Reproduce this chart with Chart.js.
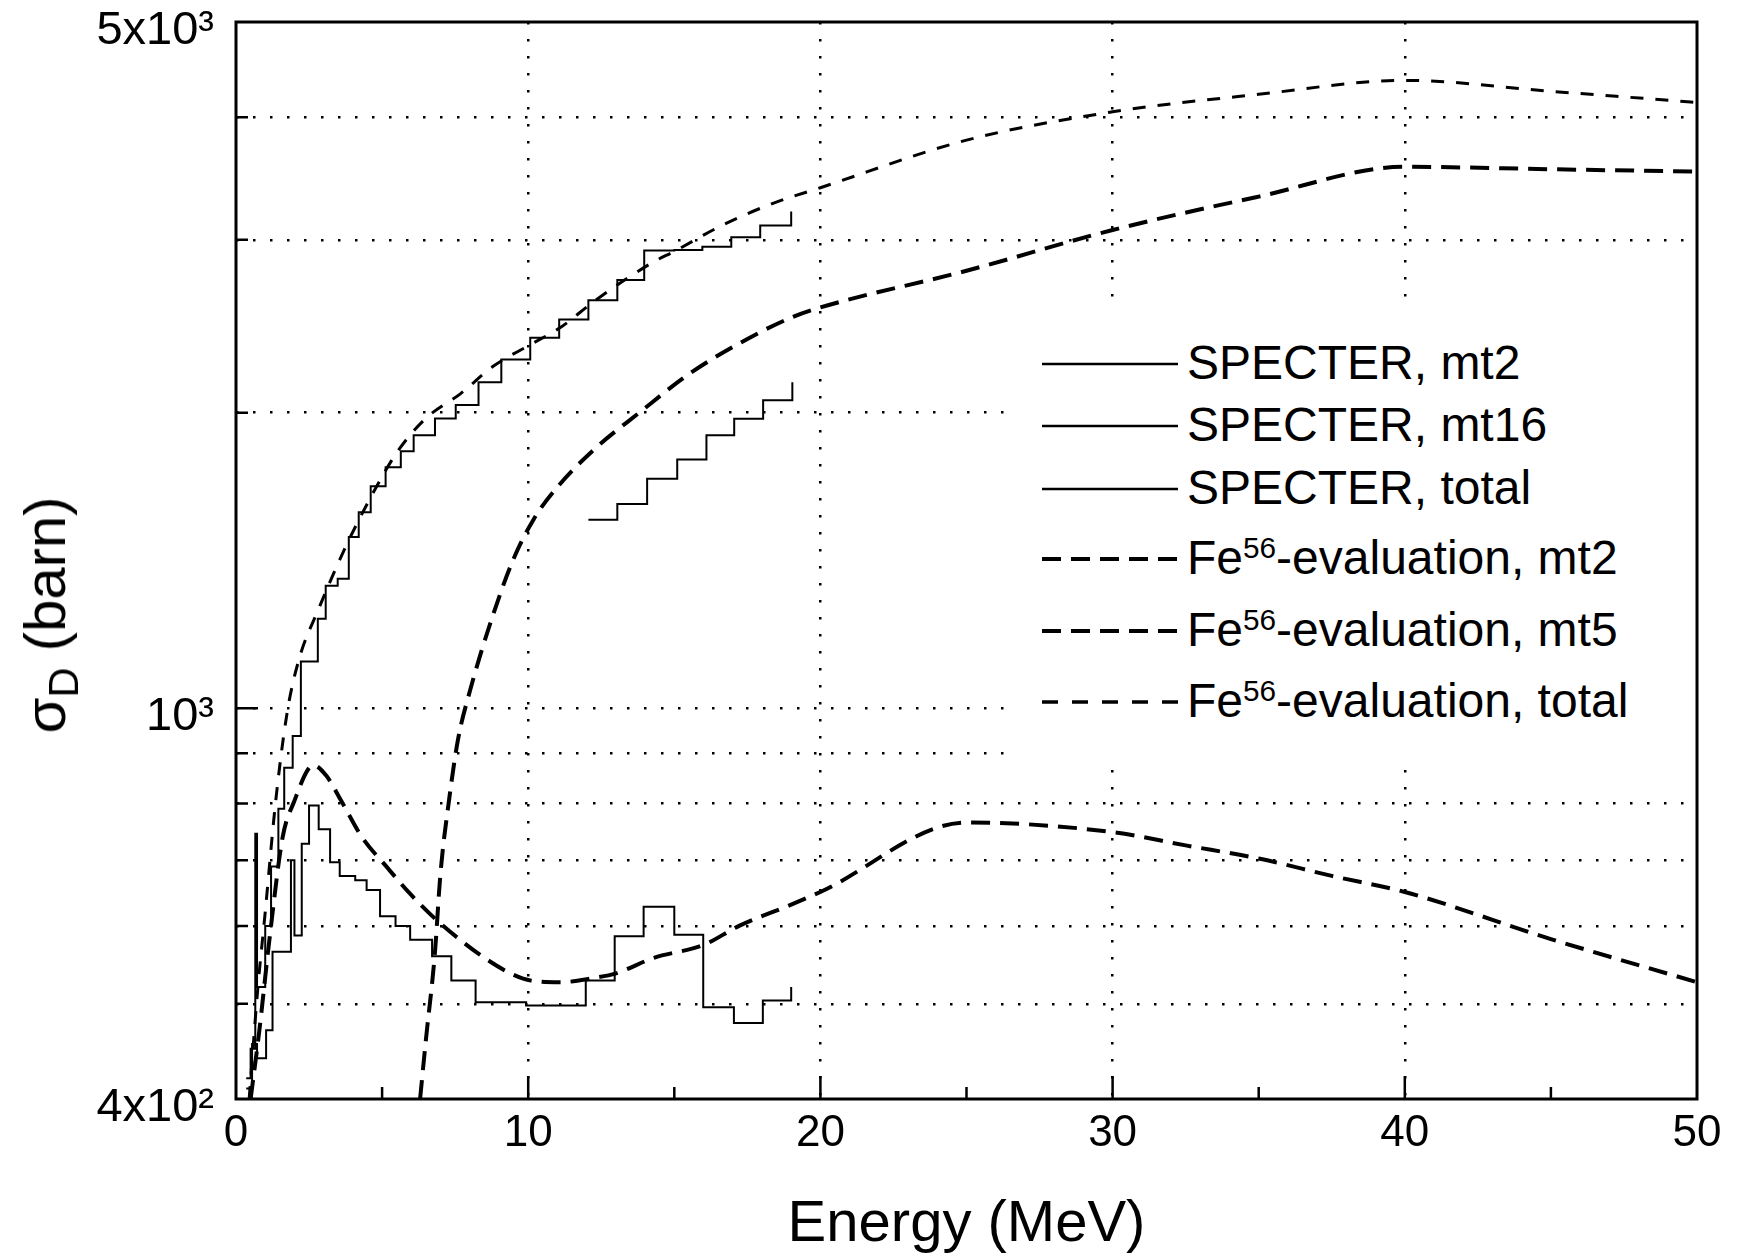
<!DOCTYPE html>
<html>
<head>
<meta charset="utf-8">
<script src="https://cdn.jsdelivr.net/npm/chart.js@4.4.1/dist/chart.umd.min.js"></script>
<style>
  html, body { margin: 0; padding: 0; background: #fff; }
  #wrap { position: relative; width: 1739px; height: 1258px; font-family: "Liberation Sans", Arial, sans-serif; color: #000; }
  #chart { position: absolute; left: 0; top: 0; }
  #ytitle { position: absolute; left: 45px; top: 615px; transform: translate(-50%, -50%) rotate(-90deg); font-size: 58px; white-space: nowrap; line-height: 1; }
  #ytitle sub { font-size: 0.72em; vertical-align: -0.3em; line-height: 0; }
  #legend { position: absolute; left: 1015px; top: 305px; width: 680px; height: 455px; background: #fff; }
  .row { position: absolute; left: 0; height: 60px; width: 680px; }
  .row svg { position: absolute; left: 27px; top: 0; }
  .row span { position: absolute; left: 172px; top: 0; line-height: 60px; font-size: 48px; white-space: nowrap; }
  .row sup { font-size: 0.62em; vertical-align: 0.55em; line-height: 0; }
</style>
</head>
<body>
<div id="wrap">
  <canvas id="chart" width="1739" height="1258"></canvas>
  <div id="ytitle">σ<sub>D</sub> (barn)</div>
  <div id="legend">
    <div class="row" style="top:28px"><svg width="136" height="60"><line x1="0" y1="31" x2="136" y2="31" stroke="#000" stroke-width="2.5"/></svg><span>SPECTER, mt2</span></div>
    <div class="row" style="top:90px"><svg width="136" height="60"><line x1="0" y1="31" x2="136" y2="31" stroke="#000" stroke-width="2.5"/></svg><span>SPECTER, mt16</span></div>
    <div class="row" style="top:153px"><svg width="136" height="60"><line x1="0" y1="31" x2="136" y2="31" stroke="#000" stroke-width="2.5"/></svg><span>SPECTER, total</span></div>
    <div class="row" style="top:223px"><svg width="136" height="60"><line x1="0" y1="31" x2="136" y2="31" stroke="#000" stroke-width="4" stroke-dasharray="19 10"/></svg><span>Fe<sup>56</sup>-evaluation, mt2</span></div>
    <div class="row" style="top:295px"><svg width="136" height="60"><line x1="0" y1="31" x2="136" y2="31" stroke="#000" stroke-width="4" stroke-dasharray="19 10"/></svg><span>Fe<sup>56</sup>-evaluation, mt5</span></div>
    <div class="row" style="top:366px"><svg width="136" height="60"><line x1="0" y1="31" x2="136" y2="31" stroke="#000" stroke-width="3.5" stroke-dasharray="16 14"/></svg><span>Fe<sup>56</sup>-evaluation, total</span></div>
  </div>
</div>
<script>
// ejes
var xTickValues = [0, 5, 10, 15, 20, 25, 30, 35, 40, 45, 50];
var yTickValues = [400, 500, 600, 700, 800, 900, 1000, 2000, 3000, 4000, 5000];
var yLabelValues = [400, 1000, 5000];
var yLabelTexts = ['4x10²', '10³', '5x10³'];

// Fe56-evaluation, mt2
var evalMt2E = [0.5, 0.8, 1.14, 1.6, 2.0, 2.45, 2.65, 3.1, 3.6, 4.3, 5.2, 5.9, 6.8, 7.7, 8.5, 9.4, 10.1, 11.1, 12.2, 13, 14.3, 16, 17.2, 19, 20, 25, 30, 32.5, 35, 37.5, 40, 45, 50];
var evalMt2 = [400, 470, 580, 740, 805, 865, 875, 853, 805, 740, 687, 650, 611, 580, 557, 537, 528, 526, 531, 537, 557, 574, 600, 631, 650, 765, 748, 725, 703, 675, 650, 582, 526];

// Fe56-evaluation, mt5
var evalMt5E = [6.3, 6.5, 6.8, 7.0, 7.3, 7.6, 8.0, 8.7, 9.5, 10.2, 11, 12.3, 13.8, 15.5, 17.3, 19, 20, 25, 30, 35, 40, 45, 50];
var evalMt5 = [400, 460, 560, 680, 810, 930, 1040, 1220, 1420, 1560, 1680, 1840, 2000, 2190, 2360, 2500, 2560, 2790, 3070, 3320, 3560, 3540, 3520];

// Fe56-evaluation, total
var evalTotE = [0.45, 0.75, 1.0, 1.35, 1.75, 2.15, 2.84, 3.7, 4.5, 5.5, 6.5, 7.7, 8.8, 10, 11.1, 12.3, 14.3, 15, 16.6, 18.4, 20, 25, 30, 35, 40, 45, 50];
var evalTot = [400, 520, 620, 800, 990, 1120, 1265, 1449, 1617, 1821, 1974, 2093, 2230, 2340, 2442, 2603, 2850, 2920, 3100, 3270, 3390, 3790, 4050, 4220, 4360, 4250, 4140];

// SPECTER, mt2 (histograma: bordes de los bins y valor de cada bin)
var specMt2Edges = [0.35, 0.55, 0.72, 1.03, 1.25, 1.88, 2.0, 2.25, 2.5, 2.83, 3.22, 3.55, 4.08, 4.47, 4.93, 5.46, 5.96, 6.71, 7.37, 8.2, 9.93, 11.97, 12.96, 13.95, 15.0, 15.99, 17.04, 18.03, 19.0];
var specMt2 = [410, 455, 440, 470, 565, 700, 587, 728, 796, 753, 697, 675, 668, 653, 614, 600, 581, 559, 528, 502, 498, 528, 586, 628, 588, 496, 478, 504];
var specMt2Last = 520;

// SPECTER, mt16
var specMt16Edges = [12.06, 13.05, 14.07, 15.1, 16.1, 17.05, 18.04, 19.04];
var specMt16 = [1556, 1615, 1713, 1792, 1897, 1972, 2059];
var specMt16Last = 2148;

// SPECTER, total
var specTotEdges = [0.35, 0.5, 0.66, 0.72, 1.0, 1.2, 1.45, 1.65, 1.94, 2.22, 2.80, 3.07, 3.48, 3.86, 4.2, 4.61, 5.12, 5.64, 6.08, 6.81, 7.52, 8.30, 9.08, 10.07, 11.06, 12.06, 13.05, 13.97, 15.0, 15.96, 16.95, 17.94, 19.0];
var specTot = [420, 450, 745, 520, 600, 690, 790, 870, 937, 1116, 1234, 1333, 1355, 1494, 1584, 1683, 1760, 1827, 1897, 1973, 2037, 2148, 2266, 2385, 2488, 2604, 2731, 2926, 2930, 2952, 3018, 3102];
var specTotLast = 3206;

var FONT = "'Liberation Sans', Arial, sans-serif";
Chart.defaults.font.family = FONT;
Chart.defaults.color = '#000';

function toPoints(xs, ys) {
  return xs.map(function(x, i) { return {x: x, y: ys[i]}; });
}

// cada bin empieza en su borde izquierdo; el ultimo punto cierra el histograma
function histPoints(edges, vals, last) {
  var pts = vals.map(function(v, i) { return {x: edges[i], y: v}; });
  pts.push({x: edges[edges.length - 1], y: last});
  return pts;
}

function evalLine(label, pts, dash, width) {
  return { label: label, data: pts, borderColor: '#000', borderWidth: width, borderDash: dash,
           pointRadius: 0, fill: false, cubicInterpolationMode: 'monotone' };
}

function histLine(label, pts) {
  return { label: label, data: pts, borderColor: '#000', borderWidth: 2, stepped: 'before',
           pointRadius: 0, fill: false };
}

// marco del grafico y marcas de escala hacia dentro
var frameAndTicks = {
  id: 'frameAndTicks',
  afterDatasetsDraw: function(chart) {
    var c = chart.ctx, a = chart.chartArea, xs = chart.scales.x, ys = chart.scales.y;
    c.save();
    c.strokeStyle = '#000';
    c.lineWidth = 2.5;
    c.beginPath();
    xTickValues.forEach(function(v) {
      if (v <= 0 || v >= 50) return;
      var px = xs.getPixelForValue(v);
      var len = v % 10 === 0 ? 23 : 12;
      c.moveTo(px, a.bottom);
      c.lineTo(px, a.bottom - len);
    });
    yTickValues.forEach(function(v) {
      if (v <= 400 || v >= 5000) return;
      var py = ys.getPixelForValue(v);
      var len = v === 1000 ? 22 : 12;
      c.moveTo(a.left, py);
      c.lineTo(a.left + len, py);
    });
    c.stroke();
    c.lineWidth = 3;
    c.strokeRect(a.left, a.top, a.right - a.left, a.bottom - a.top);
    c.restore();
  }
};

var ctx = document.getElementById('chart').getContext('2d');
var chart = new Chart(ctx, {
  type: 'line',
  data: {
    datasets: [
      histLine('SPECTER, mt2', histPoints(specMt2Edges, specMt2, specMt2Last)),
      histLine('SPECTER, mt16', histPoints(specMt16Edges, specMt16, specMt16Last)),
      histLine('SPECTER, total', histPoints(specTotEdges, specTot, specTotLast)),
      evalLine('Fe56-evaluation, mt2', toPoints(evalMt2E, evalMt2), [19, 10], 4),
      evalLine('Fe56-evaluation, mt5', toPoints(evalMt5E, evalMt5), [19, 10], 4),
      evalLine('Fe56-evaluation, total', toPoints(evalTotE, evalTot), [13, 12], 3)
    ]
  },
  options: {
    responsive: false,
    animation: false,
    layout: { padding: { left: 0, right: 42, top: 22, bottom: 0 } },
    plugins: { legend: { display: false }, tooltip: { enabled: false } },
    scales: {
      x: {
        type: 'linear', min: 0, max: 50,
        afterBuildTicks: function(s) { s.ticks = xTickValues.map(function(v) { return {value: v}; }); },
        afterFit: function(s) { s.height = 159; s.paddingLeft = 0; s.paddingRight = 0; },
        ticks: {
          autoSkip: false, maxRotation: 0, padding: 8, color: '#000',
          font: { family: FONT, size: 44 },
          callback: function(v) { return v % 10 === 0 ? String(v) : ''; }
        },
        grid: {
          drawTicks: false, lineWidth: 2.5,
          color: function(c) {
            var v = c.tick ? c.tick.value : 0;
            return (v % 10 === 0 && v > 0 && v < 50) ? '#000' : 'rgba(0,0,0,0)';
          }
        },
        border: { display: false, dash: [2.5, 14.5] },
        title: { display: true, text: 'Energy (MeV)', color: '#000',
                 font: { family: FONT, size: 58, lineHeight: 1 }, padding: { top: 0, bottom: 4 } }
      },
      y: {
        type: 'logarithmic', min: 400, max: 5000,
        afterBuildTicks: function(s) { s.ticks = yTickValues.map(function(v) { return {value: v}; }); },
        afterFit: function(s) { s.width = 236; s.paddingTop = 0; s.paddingBottom = 0; },
        ticks: {
          autoSkip: false, padding: 22, labelOffset: 9, color: '#000',
          font: { family: FONT, size: 47 },
          callback: function(v) {
            var i = yLabelValues.indexOf(v);
            return i >= 0 ? yLabelTexts[i] : '';
          }
        },
        grid: {
          drawTicks: false, lineWidth: 2.5,
          color: function(c) {
            var v = c.tick ? c.tick.value : 0;
            return (v > 400 && v < 5000) ? '#000' : 'rgba(0,0,0,0)';
          }
        },
        border: { display: false, dash: [2.5, 14.5] }
      }
    }
  },
  plugins: [frameAndTicks]
});
</script>
</body>
</html>
